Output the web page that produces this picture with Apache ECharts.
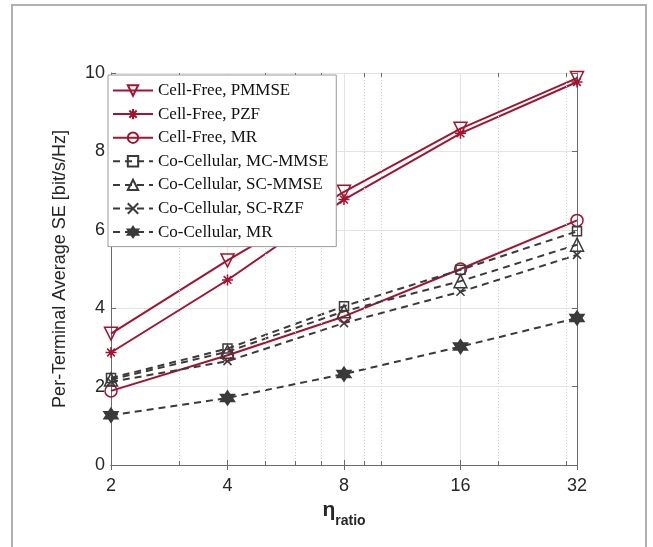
<!DOCTYPE html>
<html>
<head>
<meta charset="utf-8">
<script src="https://cdn.jsdelivr.net/npm/echarts@6/dist/echarts.min.js"></script>
<style>
  html, body { margin: 0; padding: 0; background: #fff; }
  #frame {
    position: absolute; left: 11px; top: 4px; width: 632px; height: 560px;
    border-top: 2px solid #b0b0b0; border-left: 2px solid #b0b0b0; border-right: 2px solid #b0b0b0;
  }
  #chart { position: absolute; left: 0; top: 0; width: 653px; height: 547px; }
</style>
</head>
<body>
<div id="frame"></div>
<div id="chart"></div>
<script>
// eta_ratio values (log2 x-axis)
const etaRatio = [2, 4, 8, 16, 32];
const xTickLabels = ['2', '4', '8', '16', '32'];
const yTicks = [0, 2, 4, 6, 8, 10];

// per-terminal average SE [bit/s/Hz]
const cfPMMSE   = [3.35, 5.22, 6.97, 8.58, 9.87];
const cfPZF     = [2.87, 4.72, 6.77, 8.46, 9.77];
const cfMR      = [1.89, 2.80, 3.79, 5.00, 6.24];
const ccMCMMSE  = [2.22, 2.97, 4.05, 4.98, 5.96];
const ccSCMMSE  = [2.18, 2.89, 3.92, 4.69, 5.62];
const ccSCRZF   = [2.12, 2.65, 3.62, 4.42, 5.36];
const ccMR      = [1.27, 1.71, 2.32, 3.02, 3.75];

// minor log-scale grid positions
const minorGrid = [3, 5, 6, 7, 9, 10, 20, 30];

const RED = '#A2142F';
const GRAY = '#3a3a3a';

const SYM_STAR = 'path://M0,-1L0,1M-1,0L1,0M-0.7,-0.7L0.7,0.7M-0.7,0.7L0.7,-0.7';
const SYM_X = 'path://M-1,-1L1,1M-1,1L1,-1';
const SYM_HEX = 'path://M0,-1L0.289,-0.5L0.866,-0.5L0.577,0L0.866,0.5L0.289,0.5L0,1L-0.289,0.5L-0.866,0.5L-0.577,0L-0.866,-0.5L-0.289,-0.5Z';

function pairs(ys) { return etaRatio.map((x, i) => [x, ys[i]]); }

function mk(name, ys, color, dashed, symbol, size, filled, rotate) {
  return {
    name, type: 'line', data: pairs(ys), xAxisIndex: 0, yAxisIndex: 0,
    symbol, symbolSize: size, symbolRotate: rotate || 0, showAllSymbol: true,
    color,
    lineStyle: { color, width: 2, type: dashed ? [7, 5] : 'solid' },
    itemStyle: { color: filled ? color : 'rgba(0,0,0,0)', borderColor: color, borderWidth: 1.5 },
    emphasis: { disabled: true },
    silent: true, animation: false, z: 2
  };
}

const series = [
  mk('Cell-Free, PMMSE', cfPMMSE, RED, false, 'triangle', 13, false, 180),
  mk('Cell-Free, PZF', cfPZF, RED, false, SYM_STAR, 11, false),
  mk('Cell-Free, MR', cfMR, RED, false, 'circle', 12, false),
  mk('Co-Cellular, MC-MMSE', ccMCMMSE, GRAY, true, 'rect', 9, false),
  mk('Co-Cellular, SC-MMSE', ccSCMMSE, GRAY, true, 'triangle', 13, false),
  mk('Co-Cellular, SC-RZF', ccSCRZF, GRAY, true, SYM_X, 8, false),
  mk('Co-Cellular, MR', ccMR, GRAY, true, SYM_HEX, 14, true)
];

// minor grid and minor ticks drawn on the log scale
series.push({
  type: 'line', data: [], xAxisIndex: 0, yAxisIndex: 0, silent: true, animation: false, z: 1,
  markLine: {
    silent: true, symbol: 'none', animation: false, label: { show: false },
    lineStyle: { color: '#d2d2d2', width: 1, type: [1, 2] },
    data: minorGrid.map(v => ({ xAxis: v }))
  }
});
series.push({
  type: 'line', data: [], xAxisIndex: 0, yAxisIndex: 0, silent: true, animation: false, z: 1,
  markLine: {
    silent: true, symbol: 'none', animation: false, label: { show: false },
    lineStyle: { color: '#6a6a6a', width: 1, type: 'solid' },
    data: minorGrid.flatMap(v => [
      [{ coord: [v, 0] }, { coord: [v, 0.1] }],
      [{ coord: [v, 10] }, { coord: [v, 9.9] }]
    ])
  }
});

const chart = echarts.init(document.getElementById('chart'), null, { renderer: 'canvas' });
chart.setOption({
  animation: false,
  backgroundColor: 'transparent',
  grid: { left: 111, right: 76, top: 73, bottom: 82, containLabel: false },
  xAxis: [{
    type: 'log', logBase: 2, min: 2, max: 32,
    axisLine: { show: true, lineStyle: { color: '#6a6a6a', width: 1 } },
    axisTick: { show: true, inside: true, length: 5, lineStyle: { color: '#6a6a6a' } },
    axisLabel: {
      fontFamily: 'Liberation Sans', fontSize: 18, color: '#262626', margin: 12,
      formatter: v => xTickLabels[etaRatio.indexOf(Math.round(v))] || ''
    },
    splitLine: { show: true, lineStyle: { color: '#e4e4e4', width: 1 } },
    name: '{e|η}{s|ratio}', nameLocation: 'middle', nameGap: 19,
    nameTextStyle: {
      rich: {
        e: { fontFamily: 'Liberation Sans', fontSize: 21, fontWeight: 'bold', color: '#262626', verticalAlign: 'top', lineHeight: 28 },
        s: { fontFamily: 'Liberation Sans', fontSize: 14, fontWeight: 'bold', color: '#262626', verticalAlign: 'bottom', lineHeight: 28, padding: [9, 0, 0, 0] }
      }
    }
  }, {
    type: 'log', logBase: 2, min: 2, max: 32, position: 'top',
    axisLine: { show: true, lineStyle: { color: '#6a6a6a', width: 1 } },
    axisTick: { show: true, inside: true, length: 5, lineStyle: { color: '#6a6a6a' } },
    axisLabel: { show: false }, splitLine: { show: false }
  }],
  yAxis: [{
    type: 'value', min: 0, max: 10, interval: 2,
    axisLine: { show: true, lineStyle: { color: '#6a6a6a', width: 1 } },
    axisTick: { show: true, inside: true, length: 5, lineStyle: { color: '#6a6a6a' } },
    axisLabel: {
      fontFamily: 'Liberation Sans', fontSize: 18, color: '#262626', margin: 6,
      formatter: v => yTicks.includes(v) ? String(v) : ''
    },
    splitLine: { show: true, lineStyle: { color: '#e4e4e4', width: 1 } },
    name: 'Per-Terminal Average SE [bit/s/Hz]', nameLocation: 'middle', nameGap: 42, nameRotate: 90,
    nameTextStyle: { fontFamily: 'Liberation Sans', fontSize: 18, color: '#262626' }
  }, {
    type: 'value', min: 0, max: 10, interval: 2, position: 'right',
    axisLine: { show: true, lineStyle: { color: '#6a6a6a', width: 1 } },
    axisTick: { show: true, inside: true, length: 5, lineStyle: { color: '#6a6a6a' } },
    axisLabel: { show: false }, splitLine: { show: false }
  }],
  legend: {
    orient: 'vertical', left: 108, top: 75, z: 20,
    padding: [7, 8, 6, 4], itemWidth: 40, itemHeight: 13, itemGap: 6.6,
    backgroundColor: '#fff', borderColor: '#9a9a9a', borderWidth: 1,
    textStyle: { fontFamily: 'Liberation Serif', fontSize: 17, color: '#111', padding: [0, 0, 0, 0] },
    data: series.slice(0, 7).map(s => s.name),
    selectedMode: false
  },
  series
});
</script>
</body>
</html>
